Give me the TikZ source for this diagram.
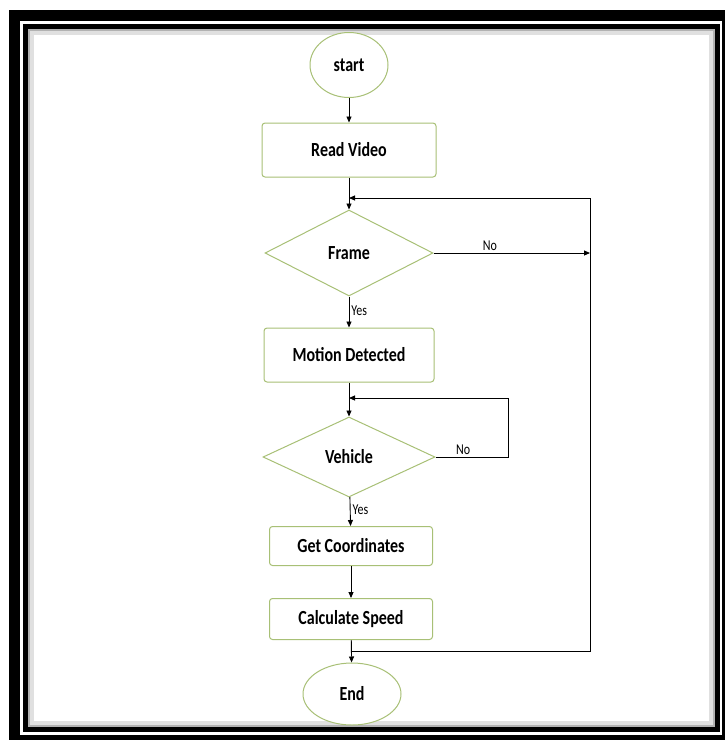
\documentclass[tikz,border=0pt]{standalone}
\usepackage{fontspec}
\newfontfamily\lblfont[FakeStretch=0.8]{Carlito}
\usetikzlibrary{shapes.geometric,arrows.meta}
\definecolor{boxgreen}{RGB}{168,192,118}
\begin{document}
\begin{tikzpicture}[x=1pt,y=-1pt,
    box/.style={rectangle,rounded corners=3pt,draw=boxgreen,line width=1pt,fill=white,font=\lblfont\bfseries\fontsize{20}{22}\selectfont},
    term/.style={ellipse,draw=boxgreen,line width=1pt,fill=white,font=\lblfont\bfseries\fontsize{20}{22}\selectfont},
    decide/.style={diamond,draw=boxgreen,line width=1pt,fill=white,inner sep=0pt,font=\lblfont\bfseries\fontsize{20}{22}\selectfont},
    arr/.style={line width=0.9pt,-{Triangle[length=6pt,width=5pt]}},
    lbl/.style={font=\lblfont\fontsize{15}{17}\selectfont,inner sep=2pt}]
          \useasboundingbox (0,0) rectangle (724,740);
          % frame round the chart
          \draw[line width=11pt] (14.5,15.5) rectangle (727.5,740.5);
          \draw[line width=5pt] (25.5,26.5) rectangle (717.5,729.5);
          \draw[black!30,line width=2pt] (29,30) rectangle (714,726);
          \draw[black!12,line width=4pt] (32,33) rectangle (711,723);
          \node[term,minimum width=78,minimum height=65] (start) at (349,65) {start};
          \node[box,minimum width=174,minimum height=54] (rv) at (349,150) {Read Video};
          \node[decide,minimum width=168,minimum height=86] (fr) at (349,253) {Frame};
          \node[box,minimum width=170,minimum height=54] (md) at (349,355) {Motion Detected};
          \node[decide,minimum width=172,minimum height=80] (veh) at (349,457) {Vehicle};
          \node[box,minimum width=163,minimum height=39] (gc) at (351,546) {Get Coordinates};
          \node[box,minimum width=163,minimum height=41] (cs) at (351,619) {Calculate Speed};
          \node[term,minimum width=98,minimum height=62] (end) at (352,694) {End};
          \coordinate (lp1) at (590,198);\coordinate (lp2) at (590,651);\coordinate (lp3) at (508,398);
          \draw[arr] (start)--(rv);
          \draw[arr] (rv)--(fr);
          \draw[arr] (fr)-- node[lbl,right,pos=0.45]{Yes} (md);
          \draw[arr] (md)--(veh);
          \draw[arr] (veh)-- node[lbl,right,pos=0.45]{Yes} (gc);
          \draw[arr] (gc)--(cs);
          \draw[arr] (cs)--(end);
          \draw[arr] (fr.east)-- node[lbl,above,pos=0.36]{No} (fr.east-|lp1);
          \draw[arr] (veh.east)-- node[lbl,above,pos=0.38]{No} (veh.east-|lp3)--(lp3)--(lp3-|md);
          \draw[arr] (lp2-|cs)--(lp2)--(lp1)--(lp1-|rv);
          \end{tikzpicture}
\end{document}
